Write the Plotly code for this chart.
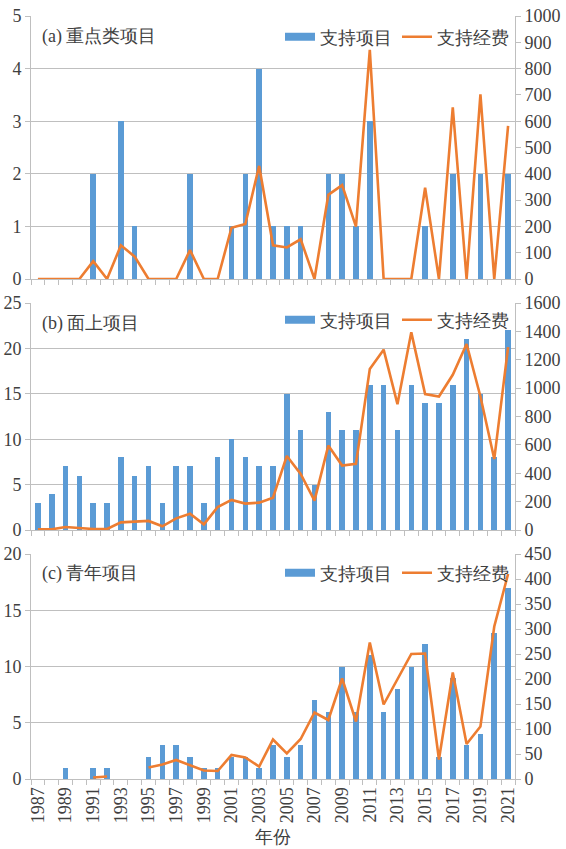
import plotly.graph_objects as go

# Funding statistics by year, 1987-2021
years = list(range(1987, 2022))

# (a) 重点类项目
key_count = [0, 0, 0, 0, 2, 0, 3, 1, 0, 0, 0, 2, 0, 0, 1, 2, 4, 1, 1, 1,
             0, 2, 2, 1, 3, 0, 0, 0, 1, 0, 2, 0, 2, 0, 2]
key_fund = [0, 0, 0, 0, 68, 0, 128, 85, 0, 0, 0, 110, 0, 0, 195, 209, 430, 128, 120, 151,
            0, 320, 357, 199, 871, 0, 0, 0, 347, 0, 653, 0, 702, 0, 582]

# (b) 面上项目
gen_count = [3, 4, 7, 6, 3, 3, 8, 6, 7, 3, 7, 7, 3, 8, 10, 8, 7, 7, 15, 11,
             5, 13, 11, 11, 16, 16, 11, 16, 14, 14, 16, 21, 15, 8, 22]
gen_fund = [5, 5, 21, 14, 7, 7, 54, 59, 64, 26, 82, 115, 40, 162, 212, 186, 193, 228, 522, 395,
            207, 595, 454, 466, 1134, 1271, 887, 1393, 958, 941, 1094, 1311, 941, 500, 1289]

# (c) 青年项目 (None = no funding recorded)
yth_count = [0, 0, 1, 0, 1, 1, 0, 0, 2, 3, 3, 2, 1, 1, 2, 2, 1, 3, 2, 3,
             7, 6, 10, 6, 11, 6, 8, 10, 12, 2, 9, 3, 4, 13, 17]
yth_fund = [None, None, None, None, 3, 5, None, None, 23, 29, 38, 27, 17, 16, 48, 43, 25, 79, 51, 80,
            133, 118, 201, 115, 273, 149, 198, 250, 251, 39, 213, 70, 105, 305, 410]

panel_titles = ["(a) 重点类项目", "(b) 面上项目", "(c) 青年项目"]
left_ranges = [(0, 5, 1), (0, 25, 5), (0, 20, 5)]
right_ranges = [(0, 1000, 100), (0, 1600, 200), (0, 450, 50)]
bar_name = "支持项目"
line_name = "支持经费"
x_tick_years = list(range(1987, 2022, 2))
x_title = "年份"

BLUE = "#5B9BD5"
ORANGE = "#ED7D31"
AXIS = "#BFBFBF"
TEXT = "#404040"
FONT = "serif"

# pixel layout -> paper domains
H, W = 849, 566
m_t, m_b, m_l, m_r = 16, 70, 31, 51
plot_h = H - m_t - m_b
panel_px = [(16, 279), (303, 530), (554, 779)]
domains = [[1 - (b - m_t) / plot_h, 1 - (t - m_t) / plot_h] for t, b in panel_px]
domains[2][0] = 0.0

counts = [key_count, gen_count, yth_count]
funds = [key_fund, gen_fund, yth_fund]
x_range = [years[0] - 0.5, years[-1] + 0.5]
boundaries = [y - 0.5 for y in years] + [years[-1] + 0.5]

fig = go.Figure()
legend_names = ["legend", "legend2", "legend3"]

for i in range(3):
    xa = "x" if i == 0 else f"x{i + 1}"
    xb = f"x{i + 4}"  # boundary-tick axis of this panel
    yl = "y" if i == 0 else f"y{2 * i + 1}"
    yr = f"y{2 * i + 2}"
    lg = legend_names[i]
    fig.add_trace(go.Bar(x=years, y=counts[i], width=0.4, marker=dict(color=BLUE, line=dict(width=0)),
                         xaxis=xa, yaxis=yl, showlegend=False, name=bar_name))
    fig.add_trace(go.Scatter(x=years, y=funds[i], mode="lines", connectgaps=False,
                             line=dict(color=ORANGE, width=2.6),
                             xaxis=xa, yaxis=yr, showlegend=False, name=line_name))
    # legend entries
    fig.add_trace(go.Scatter(x=[None], y=[None], mode="lines", line=dict(color=BLUE, width=8),
                             xaxis=xb, yaxis=yl, name=bar_name, legend=lg))
    fig.add_trace(go.Scatter(x=[None], y=[None], mode="lines", line=dict(color=ORANGE, width=2.6),
                             xaxis=xb, yaxis=yl, name=line_name, legend=lg))

layout = dict(
    width=W, height=H,
    margin=dict(l=m_l, r=m_r, t=m_t, b=m_b, autoexpand=False),
    paper_bgcolor="white", plot_bgcolor="white",
    bargap=0,
)

for i in range(3):
    xkey = "xaxis" if i == 0 else f"xaxis{i + 1}"
    xbkey = f"xaxis{i + 4}"
    ylkey = "yaxis" if i == 0 else f"yaxis{2 * i + 1}"
    yrkey = f"yaxis{2 * i + 2}"
    ylname = "y" if i == 0 else f"y{2 * i + 1}"
    xname = "x" if i == 0 else f"x{i + 1}"
    xax = dict(
        domain=[0, 1], anchor=ylname, range=x_range, automargin=False,
        tickmode="array", tickvals=x_tick_years, ticktext=[str(y) for y in x_tick_years],
        ticks="", showticklabels=(i == 2), tickangle=-90,
        tickfont=dict(family=FONT, size=18, color=TEXT),
        showline=True, linecolor=AXIS, linewidth=1, showgrid=False, zeroline=False,
    )
    if i == 2:
        xax["title"] = dict(text=x_title, font=dict(family=FONT, size=18, color=TEXT), standoff=8)
    layout[xkey] = xax
    # category boundary ticks
    layout[xbkey] = dict(
        overlaying=xname, anchor=ylname, side="bottom", range=x_range, automargin=False,
        tickmode="array", tickvals=boundaries, ticks="outside", ticklen=5, tickcolor=AXIS,
        showticklabels=False, showline=False, showgrid=False, zeroline=False,
    )
    lo, hi, dt = left_ranges[i]
    layout[ylkey] = dict(
        domain=domains[i], anchor=xname, range=[lo, hi], dtick=dt, tick0=0, automargin=False,
        showgrid=True, gridcolor=AXIS, gridwidth=1, zeroline=False,
        showline=True, linecolor=AXIS, ticks="outside", ticklen=5, tickcolor=AXIS,
        tickfont=dict(family=FONT, size=18, color=TEXT),
    )
    lo, hi, dt = right_ranges[i]
    layout[yrkey] = dict(
        overlaying=ylname, side="right", anchor=xname, range=[lo, hi], dtick=dt, tick0=0,
        automargin=False,
        showgrid=False, zeroline=False, showline=True, linecolor=AXIS,
        ticks="outside", ticklen=5, tickcolor=AXIS,
        tickfont=dict(family=FONT, size=18, color=TEXT),
    )

title_px = [36, 323, 573]
legend_px = [37, 320, 573]
for i in range(3):
    lkey = legend_names[i]
    layout[lkey] = dict(
        orientation="h", x=(280 - m_l) / (W - m_l - m_r), xanchor="left",
        y=1 - (legend_px[i] - m_t) / plot_h, yanchor="middle",
        bgcolor="rgba(0,0,0,0)", font=dict(family=FONT, size=18, color=TEXT),
        itemwidth=30,
    )

fig.update_layout(**layout)

for i in range(3):
    fig.add_annotation(
        text=panel_titles[i], xref="paper", yref="paper",
        x=(40 - m_l) / (W - m_l - m_r), y=1 - (title_px[i] - m_t) / plot_h,
        xanchor="left", yanchor="middle", showarrow=False,
        font=dict(family=FONT, size=18, color=TEXT),
    )

fig.write_html("out.html")
